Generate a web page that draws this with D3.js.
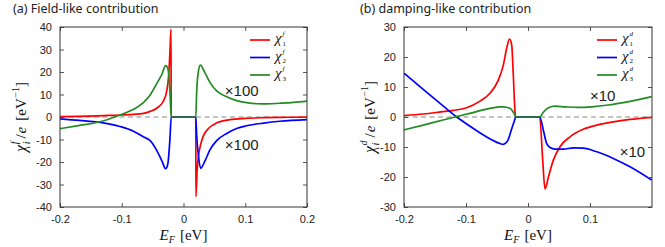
<!DOCTYPE html>
<html>
<head>
<meta charset="utf-8">
<script src="https://cdn.jsdelivr.net/npm/d3@7"></script>
<style>
  body { margin: 0; background: #fff; }
  .chart text { font-family: "Liberation Sans", Arial, sans-serif; }
</style>
</head>
<body>
<div class="chart"></div>
<script>
// ---------- panel (a) field-like contribution ----------
const fieldXTicks = [-0.2, -0.1, 0, 0.1, 0.2];
const fieldYTicks = [-40, -30, -20, -10, 0, 10, 20, 30, 40];

const fieldE1   = [-0.2, -0.17, -0.14, -0.12, -0.1, -0.08, -0.065, -0.054, -0.0434, -0.0327, -0.0272, -0.0245, -0.0219, -0.0203, -0.0199,
                   0.0199, 0.0201, 0.022, 0.025, 0.028, 0.032, 0.04, 0.054, 0.075, 0.1, 0.13, 0.16, 0.2];
const fieldChi1 = [0.2, 0.3, 0.5, 0.7, 0.9, 1.2, 1.6, 2.5, 3.9, 7, 11.5, 17, 29, 39, 0,
                   0, -35.4, -24, -16, -12, -8.5, -5.2, -2.6, -1.2, -0.6, -0.3, -0.15, -0.05];

const fieldE2   = [-0.2, -0.168, -0.135, -0.103, -0.081, -0.065, -0.054, -0.0434, -0.035, -0.0288, -0.0255, -0.0219, -0.0199,
                   0.0199, 0.0213, 0.0245, 0.0278, 0.0348, 0.043, 0.0537, 0.07, 0.086, 0.102, 0.13, 0.156, 0.2];
const fieldChi2 = [-0.8, -1.5, -2.4, -4.2, -6.3, -8.8, -10.5, -14.8, -19.5, -23, -21, -9.5, 0,
                   0, -8, -18, -22.8, -19.5, -14.5, -10.5, -7.3, -5.1, -3.9, -2.7, -1.9, -1.2];

const fieldE3   = [-0.2, -0.168, -0.135, -0.103, -0.081, -0.065, -0.054, -0.0434, -0.035, -0.0288, -0.0272, -0.0245, -0.0219, -0.0199,
                   0.0199, 0.0213, 0.024, 0.0272, 0.0348, 0.043, 0.0537, 0.07, 0.086, 0.102, 0.119, 0.135, 0.156, 0.178, 0.2];
const fieldChi3 = [-5.2, -3.7, -2.1, 0.9, 3.4, 6.4, 9.8, 14.8, 19, 22.8, 22.6, 20.5, 11, 0,
                   0, 11, 20, 23.1, 19.6, 15.3, 11.6, 9, 7.3, 6.4, 5.9, 5.8, 6.1, 6.5, 7.1];

// ---------- panel (b) damping-like contribution ----------
const dampXTicks = [-0.2, -0.1, 0, 0.1];
const dampYTicks = [-30, -20, -10, 0, 10, 20, 30];

const dampE1   = [-0.2, -0.169, -0.14, -0.12, -0.099, -0.0774, -0.0613, -0.0479, -0.0398, -0.0344, -0.030, -0.0263, -0.0237, -0.021, -0.0199,
                  0.0189, 0.0237, 0.0274, 0.033, 0.041, 0.0516, 0.0677, 0.089, 0.111, 0.1376, 0.1645, 0.1995];
const dampChi1 = [0.5, 1.0, 1.7, 2.2, 3.1, 5.3, 7.9, 12.3, 17.3, 22.9, 26, 24, 14, 1.8, 0,
                  0, -14.3, -24, -19.9, -14.3, -9.9, -6.6, -4.1, -2.7, -1.6, -0.8, -0.1];

const dampE2   = [-0.2, -0.169, -0.137, -0.1156, -0.094, -0.0672, -0.0457, -0.0403, -0.0323, -0.0269, -0.0215, -0.0199,
                  0.0189, 0.0253, 0.030, 0.0355, 0.0435, 0.057, 0.073, 0.089, 0.111, 0.1376, 0.1645, 0.1995];
const dampChi2 = [14.6, 9.2, 3.7, 0.1, -3, -6.6, -8.8, -9.1, -7.7, -4.3, -1, 0,
                  0, -4.9, -8.8, -10.2, -10.7, -10.7, -10.3, -10.4, -11.6, -13.8, -16.6, -21];

const dampE3   = [-0.2, -0.169, -0.137, -0.1156, -0.094, -0.0672, -0.0457, -0.0403, -0.029, -0.0237, -0.021, -0.0199,
                  0.0189, 0.0247, 0.0328, 0.0435, 0.0597, 0.081, 0.1027, 0.1296, 0.156, 0.178, 0.1995];
const dampChi3 = [-4.3, -2.7, -1.0, 0.1, 1.2, 2.6, 3.4, 3.4, 2.9, 1.6, 0.6, 0,
                  0, 1.6, 3.1, 3.6, 3.4, 3.2, 3.4, 4, 4.9, 5.8, 6.8];

const seriesColors = ["#ff0000", "#0000ff", "#228b22"];
const serif = "'Liberation Serif', 'DejaVu Serif', serif";

const svg = d3.select(".chart").append("svg")
    .attr("width", 665)
    .attr("height", 247);

// write a run of math text pieces; stacked pieces share the x of the previous piece
function mathText(parent, x, y, pieces) {
    const g = parent.append("g");
    let prevX = x, end = x;
    pieces.forEach(pc => {
        const sx = pc.stack ? prevX : end + (pc.gap || 0);
        const t = g.append("text")
            .attr("x", sx)
            .attr("y", y + (pc.dy || 0))
            .style("font-family", serif)
            .style("font-style", pc.it ? "italic" : "normal")
            .style("font-size", pc.size + "px")
            .attr("fill", "#111")
            .text(pc.t);
        const w = t.node().getComputedTextLength();
        prevX = sx;
        end = Math.max(end, sx + w);
    });
    return {g: g, width: end - x};
}

function fmt(d) {
    return d === 0 ? "0" : String(+d.toFixed(1));
}

function drawPanel(p) {
    const x = d3.scaleLinear().domain(p.xDomain).range([p.left, p.right]);
    const y = d3.scaleLinear().domain(p.yDomain).range([p.bottom, p.top]);
    const g = svg.append("g");

    g.append("clipPath").attr("id", "clip-" + p.id)
        .append("rect")
        .attr("x", p.left).attr("y", p.top)
        .attr("width", p.right - p.left).attr("height", p.bottom - p.top);

    // dashed zero line
    g.append("line")
        .attr("x1", x(p.xDomain[0])).attr("x2", x(p.xDomain[1]))
        .attr("y1", y(0)).attr("y2", y(0))
        .attr("stroke", "#888").attr("stroke-width", 1.1)
        .attr("stroke-dasharray", "5,3.5");

    const line = d3.line()
        .x(d => x(d[0]))
        .y(d => y(d[1]))
        .curve(d3.curveMonotoneX);

    p.series.forEach((s, i) => {
        g.append("path")
            .datum(d3.zip(s.e, s.v))
            .attr("clip-path", `url(#clip-${p.id})`)
            .attr("fill", "none")
            .attr("stroke", seriesColors[i])
            .attr("stroke-width", 1.7)
            .attr("stroke-linejoin", "round")
            .attr("d", line);
    });

    // axes, ticks pointing inwards on all four sides
    const axisStyle = a => a
        .call(a => a.select(".domain").remove())
        .call(a => a.selectAll(".tick line").attr("stroke", "#555"))
        .call(a => a.selectAll(".tick text").attr("fill", "#222").style("font-size", "11px"));

    g.append("g")
        .attr("transform", `translate(0,${p.bottom})`)
        .call(d3.axisBottom(x).tickValues(p.xTicks).tickSize(-4).tickPadding(8).tickFormat(fmt))
        .call(axisStyle);
    g.append("g")
        .attr("transform", `translate(0,${p.top})`)
        .call(d3.axisTop(x).tickValues(p.xTicks).tickSize(-4).tickFormat(""))
        .call(axisStyle);
    g.append("g")
        .attr("transform", `translate(${p.left},0)`)
        .call(d3.axisLeft(y).tickValues(p.yTicks).tickSize(-4).tickPadding(8).tickFormat(fmt))
        .call(axisStyle);
    g.append("g")
        .attr("transform", `translate(${p.right},0)`)
        .call(d3.axisRight(y).tickValues(p.yTicks).tickSize(-4).tickFormat(""))
        .call(axisStyle);

    g.append("rect")
        .attr("x", p.left).attr("y", p.top)
        .attr("width", p.right - p.left).attr("height", p.bottom - p.top)
        .attr("fill", "none").attr("stroke", "#333").attr("stroke-width", 1);

    // scale notes
    p.notes.forEach(n => {
        g.append("text")
            .attr("x", x(n.e)).attr("y", y(n.v))
            .style("font-size", "15px")
            .attr("fill", "#222")
            .text(n.t);
    });

    // legend
    p.series.forEach((s, i) => {
        const ly = p.legendY + i * 17.5;
        g.append("line")
            .attr("x1", p.legendX).attr("x2", p.legendX + 20)
            .attr("y1", ly).attr("y2", ly)
            .attr("stroke", seriesColors[i]).attr("stroke-width", 1.7);
        mathText(g, p.legendX + 25, ly + 3, [
            {t: "\u03c7", it: true, size: 15},
            {t: p.sup, it: true, size: 7, dy: -7, gap: 1},
            {t: String(i + 1), size: 7, dy: 2.5, stack: true}
        ]);
    });

    // title
    g.append("text")
        .attr("x", p.titleX).attr("y", 13)
        .style("font-family", "'Noto Sans', 'Open Sans', sans-serif")
        .style("font-size", "12.5px")
        .attr("fill", "#222")
        .text(p.title);

    // x axis title
    const xl = mathText(g, 0, 240, [
        {t: "E", it: true, size: 15},
        {t: "F", it: true, size: 10, dy: 3},
        {t: "[eV]", size: 15, gap: 5}
    ]);
    xl.g.attr("transform", `translate(${(p.left + p.right) / 2 - xl.width / 2},0)`);

    // y axis title
    const yl = mathText(g, 0, 0, [
        {t: "\u03c7", it: true, size: 16},
        {t: p.sup, it: true, size: 10, dy: -8, gap: 0.5},
        {t: "i", it: true, size: 10, dy: 4, stack: true},
        {t: "/", size: 15, gap: 3},
        {t: "e", it: true, size: 15, gap: 1},
        {t: "[eV", size: 15, gap: 6},
        {t: "\u22121", size: 10, dy: -7, gap: 0.5},
        {t: "]", size: 15}
    ]);
    yl.g.attr("transform", `translate(${p.yLabelX},${(p.top + p.bottom) / 2}) rotate(-90) translate(${-yl.width / 2},0)`);
}

drawPanel({
    id: "a",
    title: "(a) Field-like contribution", titleX: 13,
    left: 60, right: 307, top: 27, bottom: 207,
    xDomain: [-0.2, 0.2], yDomain: [-40, 40],
    xTicks: fieldXTicks, yTicks: fieldYTicks,
    series: [{e: fieldE1, v: fieldChi1}, {e: fieldE2, v: fieldChi2}, {e: fieldE3, v: fieldChi3}],
    sup: "f",
    legendX: 250, legendY: 40,
    yLabelX: 26,
    notes: [{t: "\u00d7100", e: 0.067, v: 9.3}, {t: "\u00d7100", e: 0.067, v: -14.7}]
});

drawPanel({
    id: "b",
    title: "(b) damping-like contribution", titleX: 360,
    left: 404, right: 652, top: 27, bottom: 207,
    xDomain: [-0.2, 0.2], yDomain: [-30, 30],
    xTicks: dampXTicks, yTicks: dampYTicks,
    series: [{e: dampE1, v: dampChi1}, {e: dampE2, v: dampChi2}, {e: dampE3, v: dampChi3}],
    sup: "d",
    legendX: 597, legendY: 40,
    yLabelX: 375,
    notes: [{t: "\u00d710", e: 0.1, v: 5.3}, {t: "\u00d710", e: 0.148, v: -13.3}]
});
</script>
</body>
</html>
